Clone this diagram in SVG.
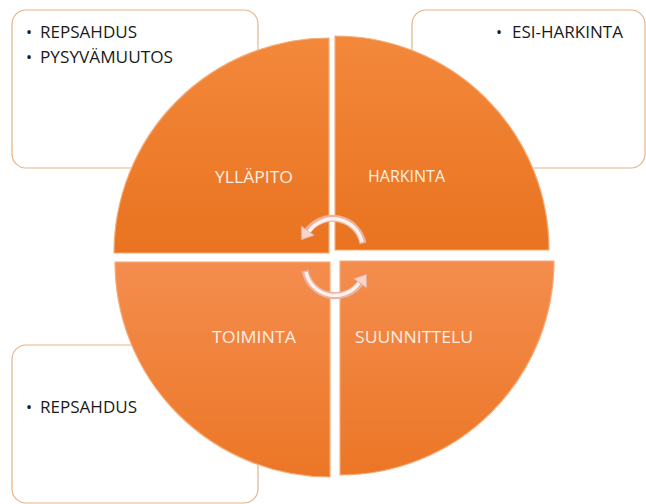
<svg xmlns="http://www.w3.org/2000/svg" width="646" height="504" viewBox="0 0 646 504">
<defs>
<linearGradient id="gTop" x1="0" y1="0" x2="0" y2="1">
<stop offset="0" stop-color="#f3883b"/><stop offset="1" stop-color="#e97320"/>
</linearGradient>
<linearGradient id="gBot" x1="0" y1="0" x2="0" y2="1">
<stop offset="0" stop-color="#f48d4e"/><stop offset="1" stop-color="#ec7626"/>
</linearGradient>
<marker id="ah" markerUnits="userSpaceOnUse" markerWidth="24" markerHeight="24" refX="1" refY="8" orient="auto" overflow="visible">
<path d="M0,0 L11,8 L0,16 Z" fill="#f6d6ca" stroke="#e6a691" stroke-width="0.8"/>
</marker>
<style>
.box{fill:#ffffff;stroke:#e6b48a;stroke-width:1.2}
.btxt{font-family:"Open Sans","Liberation Sans",Arial,sans-serif;font-size:16px;fill:#1a1a1a}
.qt{fill:url(#gTop);stroke:#f6ac78;stroke-width:1.2}
.qb{fill:url(#gBot);stroke:#f6ac78;stroke-width:1.2}
.lbl{font-family:"Open Sans","Liberation Sans",Arial,sans-serif;font-size:16px;fill:#fdeee4}
.arcBase{fill:none;stroke:#eab3a1;stroke-width:7}
.arcHi{fill:none;stroke:#fdf1ec;stroke-width:3.5}
</style>
</defs>
<rect width="646" height="504" fill="#ffffff"/>

<g id="box-tl">
<rect class="box" x="12" y="10" width="246" height="158" rx="14"/>
<text class="btxt"><tspan x="26" y="37.5">•</tspan><tspan x="40" y="37.5" textLength="97" lengthAdjust="spacingAndGlyphs">REPSAHDUS</tspan></text>
<text class="btxt"><tspan x="26" y="62.5">•</tspan><tspan x="40" y="62.5" textLength="133" lengthAdjust="spacingAndGlyphs">PYSYVÄMUUTOS</tspan></text>
</g>
<g id="box-tr">
<rect class="box" x="412" y="10" width="233" height="158" rx="14"/>
<text class="btxt"><tspan x="496" y="38">•</tspan><tspan x="512" y="38" textLength="111" lengthAdjust="spacingAndGlyphs">ESI-HARKINTA</tspan></text>
</g>
<g id="box-bl">
<rect class="box" x="12" y="345" width="246" height="158" rx="14"/>
<text class="btxt"><tspan x="26" y="413">•</tspan><tspan x="40" y="413" textLength="97" lengthAdjust="spacingAndGlyphs">REPSAHDUS</tspan></text>
</g>

<g id="q-yllapito">
<path class="qt" d="M329,253 L114,253 A215,215 0 0 1 329,38 Z"/>
<text class="lbl" x="215" y="183" textLength="78" lengthAdjust="spacingAndGlyphs">YLLÄPITO</text>
</g>
<g id="q-harkinta">
<path class="qt" d="M335,250 L335,36 A214,214 0 0 1 549,250 Z"/>
<text class="lbl" x="368" y="182" textLength="77" lengthAdjust="spacingAndGlyphs">HARKINTA</text>
</g>
<g id="q-toiminta">
<path class="qb" d="M330,262 L330,477 A215,215 0 0 1 115,262 Z"/>
<text class="lbl" x="212" y="343" textLength="84" lengthAdjust="spacingAndGlyphs">TOIMINTA</text>
</g>
<g id="q-suunnittelu">
<path class="qb" d="M340,261 L554,261 A214,214 0 0 1 340,475 Z"/>
<text class="lbl" x="355" y="343" textLength="118" lengthAdjust="spacingAndGlyphs">SUUNNITTELU</text>
</g>

<g id="connectors">
<path class="arcBase" d="M363,243.5 A31,31 0 0 0 307.2,231.5" marker-end="url(#ah)"/>
<path class="arcHi" d="M362,242 A29.5,29.5 0 0 0 309,231.5"/>
<path class="arcBase" d="M305,270.5 A31,31 0 0 0 360.8,282.5" marker-end="url(#ah)"/>
<path class="arcHi" d="M306,272 A29.5,29.5 0 0 0 359,283"/>
</g>
</svg>
